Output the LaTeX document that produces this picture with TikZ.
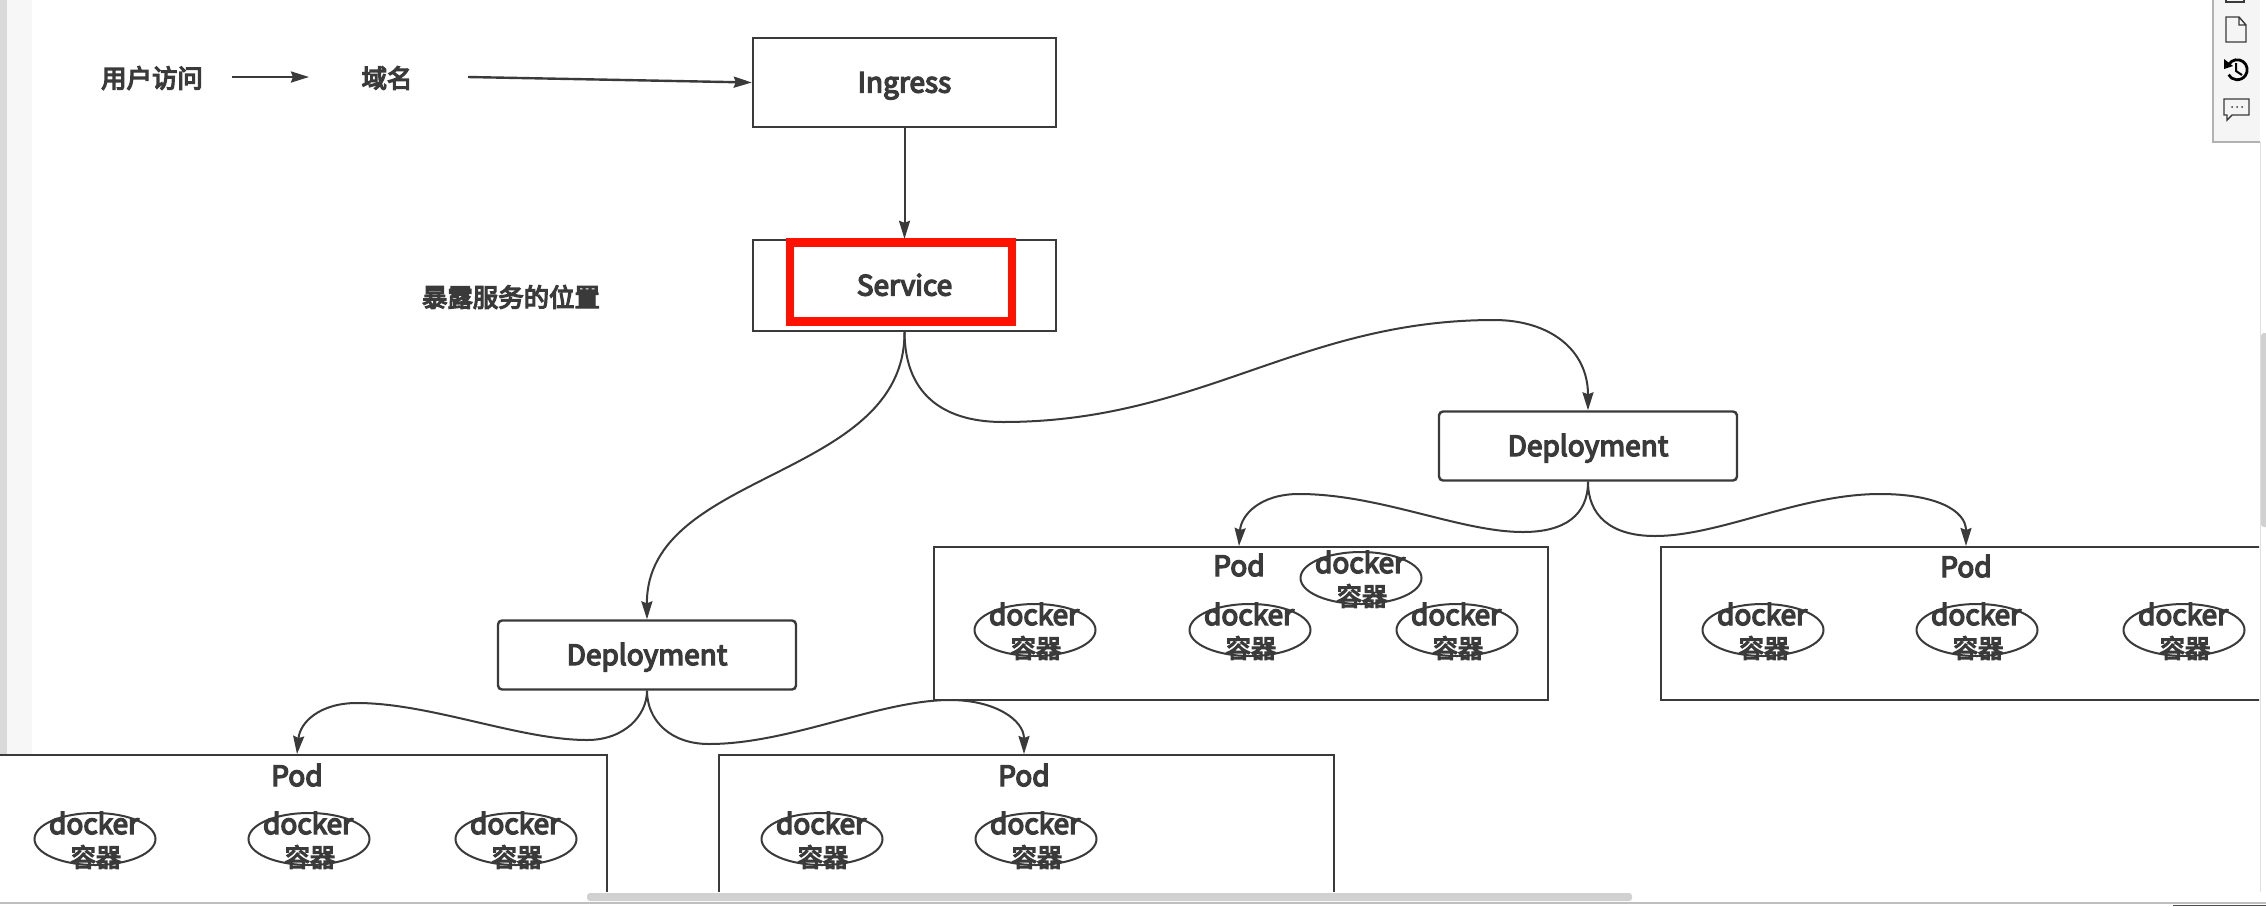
\documentclass[tikz,border=0pt]{standalone}
\usepackage{fontspec}
\setmainfont{Noto Sans CJK SC}[FakeBold=5]
\usetikzlibrary{arrows.meta,shapes.geometric}
\definecolor{ink}{HTML}{3A3A3A}
\tikzset{
  x=0.5pt,y=-0.5pt,
  txt/.style={text=ink,font=\fontsize{14}{16}\selectfont,inner sep=0pt},
  cjk/.style={text=ink,font=\fontsize{12.7}{15}\selectfont,inner sep=0pt},
  lift/.style={text height=12pt,text depth=2pt},
  boxn/.style={draw=ink,line width=1.2pt,fill=white,inner sep=0pt},
  dep/.style={boxn,rounded corners=2pt,minimum width=149pt,minimum height=34.5pt,txt,lift},
  ell/.style={draw=ink,line width=1pt,ellipse,minimum width=60.5pt,minimum height=26pt,inner sep=0pt},
  arr/.style={draw=ink,line width=1pt,-{Stealth[length=9pt,width=5.5pt,inset=1pt]}},
}
\newcommand{\dock}[3]{%
  \node[ell] (#1) at (#2,#3) {};
  \node[txt,anchor=base] (#1d) at (#2-1,#3-5) {docker};
  \node[cjk] (#1c) at (#2+1,#3+18) {容器};
}
\begin{document}
\begin{tikzpicture}
\useasboundingbox (0,0) rectangle (2266,906);
\fill[white] (0,0) rectangle (2266,906);
% window chrome
\fill[gray!6] (0,0) rectangle (32,754);
\fill[black!15] (0,0) rectangle (7,754);
\fill[black!4] (2213,0) rectangle (2260,142);
\draw[black!30,line width=0.8pt] (2213,0) -- (2213,142) -- (2260,142);
\draw[black!12,line width=0.5pt] (2260,142) -- (2260,892);
\fill[black!18,rounded corners=1.5pt] (587,893) rectangle (1632,901);
\draw[black!25,line width=0.7pt] (0,903) -- (2266,903);
\fill[black!70] (2173,905) rectangle (2266,906);
\fill[black!18,rounded corners=1.5pt] (2261,333) rectangle (2270,527);
% toolbar icons
\draw[ink,line width=0.7pt] (2226,-3) rectangle (2244,2);
\draw[ink,line width=0.7pt] (2226,17) -- (2239,17) -- (2246,25) -- (2246,42) -- (2226,42) -- cycle (2239,17) -- (2239,25) -- (2246,25);
\draw[black,line width=1.4pt] (2229,64) arc[start angle=145,end angle=-150,x radius=10,y radius=-10];
\fill[black] (2224,59) -- (2233,66) -- (2224,69) -- cycle;
\draw[black,line width=1pt] (2236,63) -- (2236,71) -- (2242,75);
\draw[ink,line width=0.7pt] (2224,99) -- (2249,99) -- (2249,115) -- (2232,115) -- (2227,120) -- (2227,115) -- (2224,115) -- cycle;
\fill[ink] (2232,107) circle[radius=1] (2237,107) circle[radius=1] (2242,107) circle[radius=1];
% top row
\node[cjk] (user) at (152,78) {用户访问};
\node[cjk] (domain) at (387,78) {域名};
\node[cjk] (expose) at (511,297) {暴露服务的位置};
\node[boxn,minimum width=151.5pt,minimum height=44.5pt,txt,lift] (ingress) at (904.5,82.5) {Ingress};
\node[boxn,minimum width=151.5pt,minimum height=45.5pt,txt,lift] (service) at (904.5,285.5) {Service};
\node[draw=red!85!orange,line width=4.3pt,minimum width=111pt,minimum height=39.5pt,inner sep=0pt] (mark) at (901,282) {};
\coordinate (ustart) at (232,77);
\coordinate (uend) at (309,77);
\coordinate (dstart) at (468,77);
\draw[arr,line width=1.2pt] (ustart) -- (uend);
\draw[arr,line width=1.2pt] (dstart) -- (ingress.west);
\draw[arr] (ingress.south) -- (service.north);
% deployments
\node[dep] (depR) at (1588,446) {Deployment};
\node[dep] (depL) at (647,655) {Deployment};
% pods
\begin{scope}
\clip (-10,0) rectangle (2259,891);
\node[boxn,minimum width=307pt,minimum height=76.5pt,anchor=north west] (podA) at (933,546) {};
\node[boxn,minimum width=330pt,minimum height=76.5pt,anchor=north west] (podB) at (1660,546) {};
\node[boxn,minimum width=320pt,minimum height=100pt,anchor=north east] (podC) at (608,754) {};
\node[boxn,minimum width=307.5pt,minimum height=100pt,anchor=north west] (podD) at (718,754) {};
\end{scope}
\node[txt,lift] (ta) at (1239,566) {Pod};
\node[txt,lift] (tb) at (1966,567) {Pod};
\node[txt,lift] (tc) at (297,776) {Pod};
\node[txt,lift] (td) at (1024,776) {Pod};
\dock{a1}{1361}{578}
\dock{a2}{1035}{630}
\dock{a3}{1250}{630}
\dock{a4}{1457}{630}
\dock{b1}{1763}{630}
\dock{b2}{1977}{630}
\dock{b3}{2184}{630}
\dock{c1}{95}{839}
\dock{c2}{309}{839}
\dock{c3}{516}{839}
\dock{d1}{822}{839}
\dock{d2}{1036}{839}
% connectors
\draw[arr] (service.south) .. controls (905,480) and (646,470) .. (depL.north);
\draw[arr] (service.south) .. controls (905,400) and (950,422) .. (1003,422)
   .. controls (1200,422) and (1300,320) .. (1494,320)
   .. controls (1550,320) and (1588,350) .. (depR.north);
\draw[arr] (depR.south) .. controls (1588,515) and (1565,532) .. (1523,532)
   .. controls (1460,532) and (1380,494) .. (1299,494)
   .. controls (1260,494) and (1241,515) .. (ta.north |- podA.north);
\draw[arr] (depR.south) .. controls (1588,515) and (1610,536) .. (1655,536)
   .. controls (1720,536) and (1800,494) .. (1880,494)
   .. controls (1935,494) and (1966,510) .. (tb.north |- podB.north);
\draw[arr] (depL.south) .. controls (647,715) and (625,740) .. (587,740)
   .. controls (520,740) and (430,703) .. (357,703)
   .. controls (320,703) and (300,722) .. (tc.north |- podC.north);
\draw[arr] (depL.south) .. controls (647,720) and (670,744) .. (709,744)
   .. controls (790,744) and (880,700) .. (950,700)
   .. controls (995,700) and (1024,720) .. (td.north |- podD.north);
\end{tikzpicture}
\end{document}
